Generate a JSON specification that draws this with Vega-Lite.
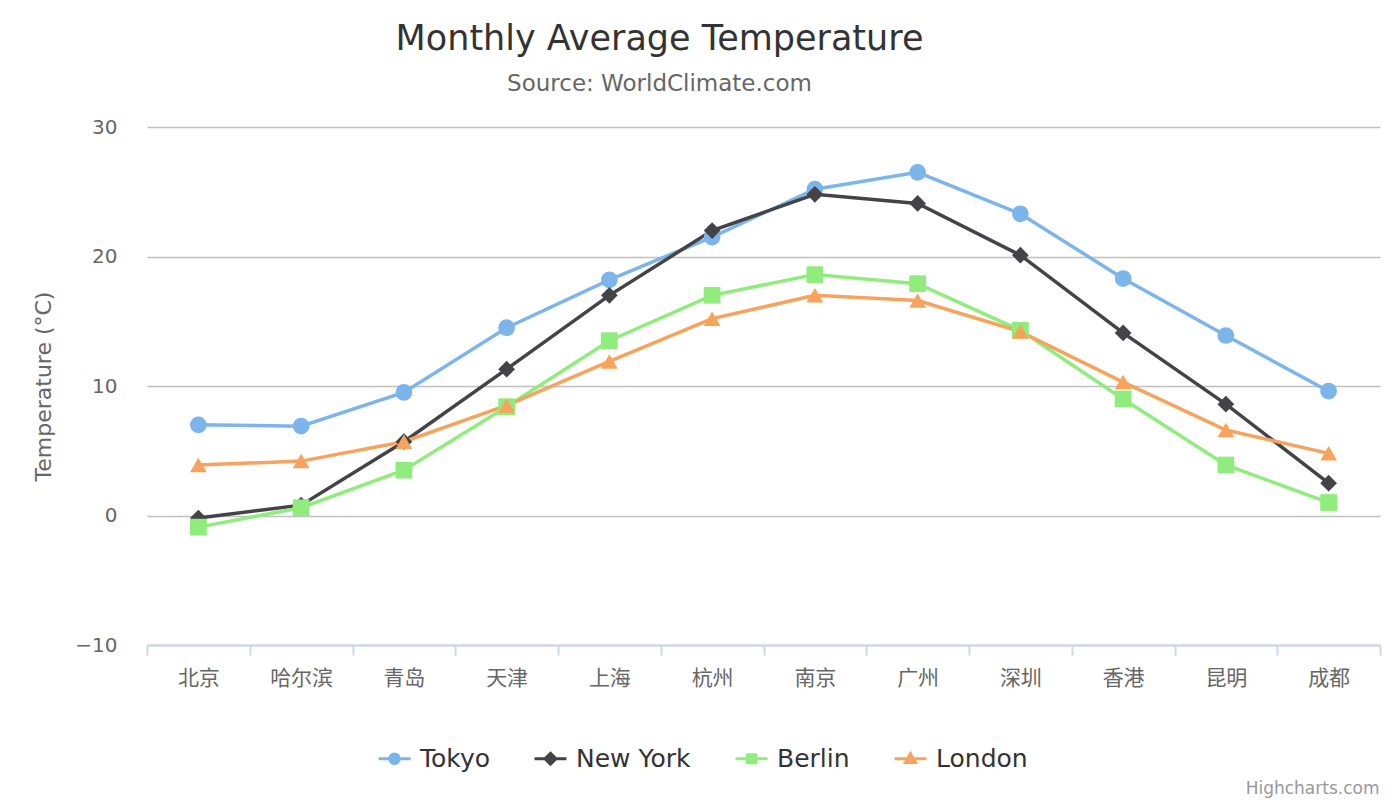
{
  "$schema": "https://vega.github.io/schema/vega-lite/v6.json",
  "autosize": {"type": "none"},
  "width": 1233,
  "height": 518,
  "padding": {"left": 147, "top": 127, "right": 20, "bottom": 155},
  "background": "#ffffff",
  "title": {
    "text": "Monthly Average Temperature",
    "subtitle": "Source: WorldClimate.com",
    "anchor": "middle",
    "dx": -104,
    "offset": 21,
    "font": "DejaVu Sans",
    "fontSize": 35,
    "fontWeight": "normal",
    "color": "#333333",
    "subtitleFont": "DejaVu Sans",
    "subtitleFontSize": 23,
    "subtitleColor": "#666666",
    "subtitlePadding": 16
  },
  "data": {
    "values": [
      {"city": "北京", "series": "Tokyo", "temp": 7.0},
      {"city": "哈尔滨", "series": "Tokyo", "temp": 6.9},
      {"city": "青岛", "series": "Tokyo", "temp": 9.5},
      {"city": "天津", "series": "Tokyo", "temp": 14.5},
      {"city": "上海", "series": "Tokyo", "temp": 18.2},
      {"city": "杭州", "series": "Tokyo", "temp": 21.5},
      {"city": "南京", "series": "Tokyo", "temp": 25.2},
      {"city": "广州", "series": "Tokyo", "temp": 26.5},
      {"city": "深圳", "series": "Tokyo", "temp": 23.3},
      {"city": "香港", "series": "Tokyo", "temp": 18.3},
      {"city": "昆明", "series": "Tokyo", "temp": 13.9},
      {"city": "成都", "series": "Tokyo", "temp": 9.6},
      {"city": "北京", "series": "New York", "temp": -0.2},
      {"city": "哈尔滨", "series": "New York", "temp": 0.8},
      {"city": "青岛", "series": "New York", "temp": 5.7},
      {"city": "天津", "series": "New York", "temp": 11.3},
      {"city": "上海", "series": "New York", "temp": 17.0},
      {"city": "杭州", "series": "New York", "temp": 22.0},
      {"city": "南京", "series": "New York", "temp": 24.8},
      {"city": "广州", "series": "New York", "temp": 24.1},
      {"city": "深圳", "series": "New York", "temp": 20.1},
      {"city": "香港", "series": "New York", "temp": 14.1},
      {"city": "昆明", "series": "New York", "temp": 8.6},
      {"city": "成都", "series": "New York", "temp": 2.5},
      {"city": "北京", "series": "Berlin", "temp": -0.9},
      {"city": "哈尔滨", "series": "Berlin", "temp": 0.6},
      {"city": "青岛", "series": "Berlin", "temp": 3.5},
      {"city": "天津", "series": "Berlin", "temp": 8.4},
      {"city": "上海", "series": "Berlin", "temp": 13.5},
      {"city": "杭州", "series": "Berlin", "temp": 17.0},
      {"city": "南京", "series": "Berlin", "temp": 18.6},
      {"city": "广州", "series": "Berlin", "temp": 17.9},
      {"city": "深圳", "series": "Berlin", "temp": 14.3},
      {"city": "香港", "series": "Berlin", "temp": 9.0},
      {"city": "昆明", "series": "Berlin", "temp": 3.9},
      {"city": "成都", "series": "Berlin", "temp": 1.0},
      {"city": "北京", "series": "London", "temp": 3.9},
      {"city": "哈尔滨", "series": "London", "temp": 4.2},
      {"city": "青岛", "series": "London", "temp": 5.7},
      {"city": "天津", "series": "London", "temp": 8.5},
      {"city": "上海", "series": "London", "temp": 11.9},
      {"city": "杭州", "series": "London", "temp": 15.2},
      {"city": "南京", "series": "London", "temp": 17.0},
      {"city": "广州", "series": "London", "temp": 16.6},
      {"city": "深圳", "series": "London", "temp": 14.2},
      {"city": "香港", "series": "London", "temp": 10.3},
      {"city": "昆明", "series": "London", "temp": 6.6},
      {"city": "成都", "series": "London", "temp": 4.8}
    ]
  },
  "encoding": {
    "x": {
      "field": "city",
      "type": "nominal",
      "sort": ["北京", "哈尔滨", "青岛", "天津", "上海", "杭州", "南京", "广州", "深圳", "香港", "昆明", "成都"],
      "scale": {"type": "band", "paddingInner": 0, "paddingOuter": 0},
      "axis": {
        "title": "Highcharts.com",
        "titleFont": "DejaVu Sans",
        "titleFontSize": 17,
        "titleFontWeight": "normal",
        "titleColor": "#999999",
        "titleAnchor": "end",
        "titleAlign": "right",
        "titleBaseline": "alphabetic",
        "titleX": 1232,
        "titleY": 148,
        "labelAngle": 0,
        "labelFont": "Noto Sans CJK SC",
        "labelFontSize": 21,
        "labelColor": "#666666",
        "labelPadding": 12,
        "tickBand": "extent",
        "tickSize": 10,
        "tickColor": "#ccd6eb",
        "tickWidth": 2,
        "domainColor": "#ccd6eb",
        "domainWidth": 2,
        "grid": false
      }
    },
    "y": {
      "field": "temp",
      "type": "quantitative",
      "scale": {"domain": [-10, 30], "nice": false, "zero": false},
      "axis": {
        "title": "Temperature (°C)",
        "titleFont": "DejaVu Sans",
        "titleFontSize": 22,
        "titleFontWeight": "normal",
        "titleColor": "#666666",
        "titleX": -104,
        "titleY": 259,
        "titleAngle": -90,
        "titleAlign": "center",
        "titleBaseline": "middle",
        "values": [-10, 0, 10, 20, 30],
        "labelFont": "DejaVu Sans",
        "labelFontSize": 20,
        "labelColor": "#666666",
        "labelPadding": 30,
        "ticks": false,
        "tickSize": 0,
        "domain": false,
        "grid": true,
        "gridColor": "#c0c0c0",
        "gridWidth": 1.5
      }
    }
  },
  "layer": [
    {
      "mark": {"type": "line", "strokeWidth": 3.5},
      "encoding": {
        "color": {
          "field": "series",
          "type": "nominal",
          "sort": ["Tokyo", "New York", "Berlin", "London"],
          "scale": {"range": ["#7cb5ec", "#434348", "#90ed7d", "#f7a35c"]},
          "legend": null
        }
      }
    },
    {
      "transform": [{"filter": "datum.series === 'Tokyo'"}],
      "mark": {"type": "point", "shape": "circle", "filled": true, "opacity": 1, "size": 280},
      "encoding": {"color": {"field": "series", "type": "nominal", "sort": ["Tokyo", "New York", "Berlin", "London"], "legend": null}}
    },
    {
      "transform": [{"filter": "datum.series === 'New York'"}],
      "mark": {"type": "point", "shape": "diamond", "filled": true, "opacity": 1, "size": 280},
      "encoding": {"color": {"field": "series", "type": "nominal", "sort": ["Tokyo", "New York", "Berlin", "London"], "legend": null}}
    },
    {
      "transform": [{"filter": "datum.series === 'Berlin'"}],
      "mark": {"type": "point", "shape": "square", "filled": true, "opacity": 1, "size": 280},
      "encoding": {"color": {"field": "series", "type": "nominal", "sort": ["Tokyo", "New York", "Berlin", "London"], "legend": null}}
    },
    {
      "transform": [{"filter": "datum.series === 'London'"}],
      "mark": {"type": "point", "shape": "triangle-up", "filled": true, "opacity": 1, "size": 280},
      "encoding": {"color": {"field": "series", "type": "nominal", "sort": ["Tokyo", "New York", "Berlin", "London"], "legend": null}}
    },
    {
      "mark": {"type": "point", "opacity": 0, "strokeWidth": 3},
      "encoding": {
        "fill": {
          "field": "series",
          "type": "nominal",
          "scale": {"domain": ["Tokyo", "New York", "Berlin", "London"], "range": ["#7cb5ec", "#434348", "#90ed7d", "#f7a35c"]},
          "legend": {"title": null}
        },
        "stroke": {
          "field": "series",
          "type": "nominal",
          "scale": {"domain": ["Tokyo", "New York", "Berlin", "London"], "range": ["#7cb5ec", "#434348", "#90ed7d", "#f7a35c"]},
          "legend": {"title": null}
        },
        "shape": {
          "field": "series",
          "type": "nominal",
          "scale": {
            "domain": ["Tokyo", "New York", "Berlin", "London"],
            "range": [
              "M-1,0H1M0.3,0A0.3,0.3,0,1,1,-0.3,0A0.3,0.3,0,1,1,0.3,0Z",
              "M-1,0H1M0,-0.34L0.34,0L0,0.34L-0.34,0Z",
              "M-1,0H1M-0.25,-0.25H0.25V0.25H-0.25Z",
              "M-1,0H1M0,-0.32L0.32,0.24H-0.32Z"
            ]
          },
          "legend": {"title": null}
        }
      }
    }
  ],
  "config": {
    "view": {"stroke": null},
    "legend": {
      "orient": "none",
      "legendX": 230,
      "legendY": 614,
      "direction": "horizontal",
      "columns": 4,
      "columnPadding": 38,
      "padding": 0,
      "symbolSize": 1024,
      "symbolStrokeWidth": 3,
      "symbolOpacity": 1,
      "labelOffset": 8,
      "labelFont": "DejaVu Sans",
      "labelFontSize": 25,
      "labelFontWeight": "normal",
      "labelColor": "#333333",
      "labelBaseline": "middle",
      "labelLimit": 300
    }
  }
}
